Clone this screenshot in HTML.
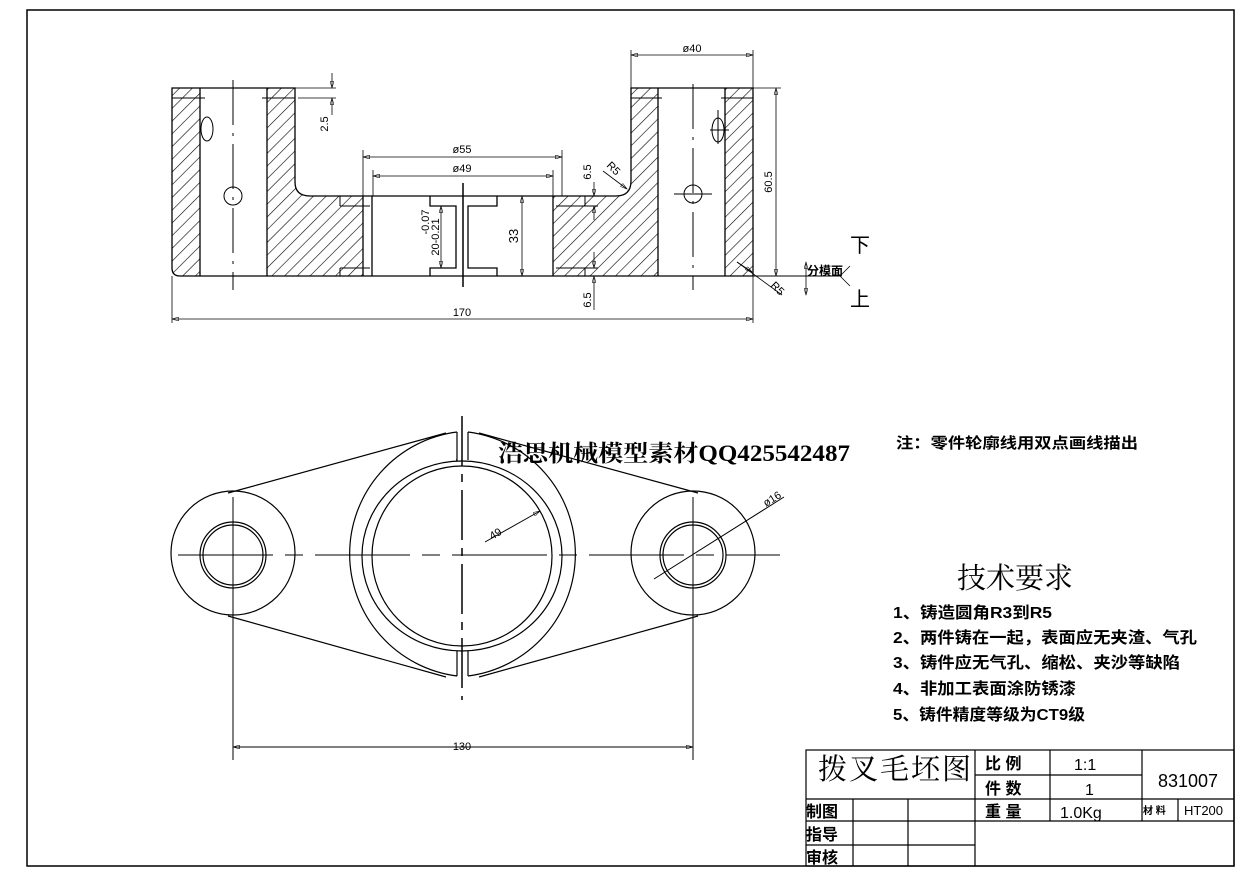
<!DOCTYPE html>
<html><head><meta charset="utf-8"><style>
html,body{margin:0;padding:0;background:#fff;}
svg{display:block;}
text{font-family:"Liberation Sans","Noto Sans CJK SC",sans-serif;fill:#000;}
.cjk{font-family:"Liberation Sans","Noto Sans CJK SC",sans-serif;font-weight:bold;}
</style></head><body>
<svg width="1244" height="876" viewBox="0 0 1244 876" xmlns="http://www.w3.org/2000/svg">
<defs>
<pattern id="h" patternUnits="userSpaceOnUse" width="9" height="9" patternTransform="rotate(45)">
<line x1="0" y1="0" x2="0" y2="9" stroke="#000" stroke-width="1.2"/>
</pattern>
<marker id="a" viewBox="0 0 10 6" refX="10" refY="3" markerWidth="8" markerHeight="4" orient="auto-start-reverse" markerUnits="userSpaceOnUse"><path d="M0,0 L10,3 L0,6 z" fill="none" stroke="#000" stroke-width="0.8"/></marker>
</defs>
<rect width="1244" height="876" fill="#fff"/>
<rect x="27" y="10" width="1207" height="856" fill="none" stroke="#000" stroke-width="1.5"/>

<!-- SECTION VIEW hatches -->
<g fill="url(#h)" stroke="none">
<path d="M172,88 H200 V276 H180 Q172,276 172,268 Z"/>
<path d="M267,88 H295 V182 Q295,196 310,196 H363 V276 H267 Z"/>
<path d="M553,196 H616 Q631,196 631,181 V88 H658 V276 H553 Z"/>
<path d="M725,88 H753 V276 H725 Z"/>
</g>
<g fill="none" stroke="#000" stroke-width="1.3">
<path d="M172,88 H295 V182 Q295,196 310,196 H616 Q631,196 631,181 V88 H753 V276 H180 Q172,276 172,268 Z"/>
<line x1="200" y1="88" x2="200" y2="276"/><line x1="267" y1="88" x2="267" y2="276"/>
<line x1="658" y1="88" x2="658" y2="276"/><line x1="725" y1="88" x2="725" y2="276"/>
<line x1="363" y1="196" x2="363" y2="276"/><line x1="372" y1="196" x2="372" y2="276"/>
<line x1="553" y1="196" x2="553" y2="276"/>
<line x1="753" y1="276" x2="840" y2="276" stroke-width="1"/>
<path d="M430,196 V206 H456 V268 H430 V276"/>
<path d="M497,196 V206 H468 V268 H497 V276"/>
</g>
<g stroke="#000" stroke-width="1" fill="none">
<line x1="172" y1="98" x2="205" y2="98"/><line x1="262" y1="98" x2="295" y2="98"/>
<line x1="631" y1="98" x2="662" y2="98"/><line x1="721" y1="98" x2="753" y2="98"/>
<line x1="340" y1="206" x2="370" y2="206"/><line x1="340" y1="196" x2="340" y2="206"/>
<line x1="340" y1="268" x2="370" y2="268"/><line x1="340" y1="268" x2="340" y2="276"/>
<line x1="556" y1="206" x2="598" y2="206"/><line x1="585" y1="196" x2="585" y2="206"/>
<line x1="556" y1="268" x2="598" y2="268"/><line x1="585" y1="268" x2="585" y2="276"/>
<line x1="233" y1="80" x2="233" y2="290" stroke-dasharray="45,8,3,8"/>
<line x1="693" y1="84" x2="693" y2="290" stroke-dasharray="45,8,3,8"/>
<line x1="463" y1="183" x2="463" y2="287" stroke-width="1.5"/>
<circle cx="233" cy="196" r="9"/><ellipse cx="207" cy="129" rx="6" ry="12"/>
<circle cx="693" cy="194" r="9"/><line x1="674" y1="194" x2="712" y2="194"/>
<ellipse cx="718" cy="130" rx="6" ry="12"/><line x1="710" y1="130" x2="729" y2="130"/><line x1="718" y1="110" x2="718" y2="144"/>
</g>
<!-- dimensions section -->
<g stroke="#000" stroke-width="0.8" fill="none">
<line x1="295" y1="88" x2="336" y2="88"/><line x1="298" y1="98" x2="336" y2="98"/>
<line x1="332" y1="73" x2="332" y2="88" marker-end="url(#a)"/><line x1="332" y1="115" x2="332" y2="98" marker-end="url(#a)"/>
<line x1="363" y1="150" x2="363" y2="196"/><line x1="562" y1="150" x2="562" y2="196"/>
<line x1="363" y1="157" x2="562" y2="157" marker-start="url(#a)" marker-end="url(#a)"/>
<line x1="373" y1="170" x2="373" y2="196"/><line x1="553" y1="170" x2="553" y2="196"/>
<line x1="373" y1="176" x2="553" y2="176" marker-start="url(#a)" marker-end="url(#a)"/>
<line x1="441" y1="206" x2="441" y2="268" marker-start="url(#a)" marker-end="url(#a)"/>
<line x1="522" y1="196" x2="522" y2="276" marker-start="url(#a)" marker-end="url(#a)"/>
<line x1="594" y1="182" x2="594" y2="196" marker-end="url(#a)"/><line x1="594" y1="220" x2="594" y2="206" marker-end="url(#a)"/>
<line x1="594" y1="252" x2="594" y2="268" marker-end="url(#a)"/><line x1="594" y1="310" x2="594" y2="276" marker-end="url(#a)"/>
<line x1="603" y1="171" x2="627" y2="189" marker-end="url(#a)"/>
<line x1="737" y1="262" x2="782" y2="295" /><line x1="737" y1="262" x2="752" y2="272" marker-end="url(#a)"/>
<line x1="631" y1="50" x2="631" y2="88"/><line x1="753" y1="50" x2="753" y2="88"/>
<line x1="631" y1="55" x2="753" y2="55" marker-start="url(#a)" marker-end="url(#a)"/>
<line x1="753" y1="88" x2="781" y2="88"/>
<line x1="776" y1="88" x2="776" y2="276" marker-start="url(#a)" marker-end="url(#a)"/>
<line x1="172" y1="276" x2="172" y2="323"/><line x1="753" y1="276" x2="753" y2="323"/>
<line x1="172" y1="319" x2="753" y2="319" marker-start="url(#a)" marker-end="url(#a)"/>
<line x1="806" y1="262" x2="806" y2="295" marker-start="url(#a)" marker-end="url(#a)"/>
<line x1="840" y1="276" x2="850" y2="266"/><line x1="840" y1="276" x2="850" y2="286"/>
</g>
<g font-size="11">
<text x="462" y="153" text-anchor="middle">ø55</text>
<text x="462" y="172" text-anchor="middle">ø49</text>
<text x="692" y="52" text-anchor="middle">ø40</text>
<text x="462" y="316" text-anchor="middle">170</text>
<text transform="translate(328,124) rotate(-90)" text-anchor="middle">2.5</text>
<text transform="translate(591,172) rotate(-90)" text-anchor="middle">6.5</text>
<text transform="translate(591,300) rotate(-90)" text-anchor="middle">6.5</text>
<text transform="translate(772,182) rotate(-90)" text-anchor="middle">60.5</text>
<text transform="translate(518,236) rotate(-90)" text-anchor="middle" font-size="13">33</text>
<text transform="translate(429,222) rotate(-90)" text-anchor="middle">-0.07</text>
<text transform="translate(439,237) rotate(-90)" text-anchor="middle">20-0.21</text>
<text transform="translate(606,166) rotate(45)">R5</text>
<text transform="translate(770,286) rotate(45)">R5</text>
</g>
<text x="807" y="275" font-size="12" class="cjk">分模面</text>
<text x="850" y="252" font-size="20" class="cjk" style="font-weight:normal">下</text>
<text x="850" y="306" font-size="20" class="cjk" style="font-weight:normal">上</text>

<!-- PLAN VIEW -->
<g fill="none" stroke="#000" stroke-width="1.2">
<circle cx="233" cy="553" r="62"/><circle cx="233" cy="555" r="33"/><circle cx="233" cy="555" r="30"/>
<circle cx="693" cy="553" r="62"/><circle cx="693" cy="555" r="33"/><circle cx="693" cy="555" r="30"/>
<path d="M457,432 A123,123 0 0 0 457,676"/><path d="M468,432 A123,123 0 0 1 468,676"/>
<path d="M457,432 V460 H456"/><path d="M468,432 V460"/>
<path d="M457,676 V651"/><path d="M468,676 V651"/>
<ellipse cx="462" cy="556" rx="100" ry="95"/>
<ellipse cx="462" cy="556" rx="90" ry="90"/>
<line x1="228" y1="493" x2="446" y2="433"/><line x1="479" y1="433" x2="698" y2="493"/>
<line x1="228" y1="616" x2="446" y2="677"/><line x1="479" y1="677" x2="698" y2="616"/>
</g>
<g stroke="#000" stroke-width="1" fill="none">
<line x1="178" y1="555" x2="780" y2="555" stroke-dasharray="95,12,18,12"/>
<line x1="462" y1="416" x2="462" y2="700" stroke-width="1.5" stroke-dasharray="50,8,8,8"/>
<line x1="233" y1="497" x2="233" y2="760"/>
<line x1="693" y1="497" x2="693" y2="760"/>
<line x1="233" y1="747" x2="693" y2="747" marker-start="url(#a)" marker-end="url(#a)"/>
<line x1="485" y1="542" x2="540" y2="511" marker-end="url(#a)"/>
<line x1="654" y1="579" x2="784" y2="497"/>
</g>
<text x="462" y="750" text-anchor="middle" font-size="11">130</text>
<text transform="translate(492,540) rotate(-30)" font-size="11">49</text>
<text transform="translate(766,507) rotate(-32)" font-size="11">ø16</text>
<text x="498" y="461" font-size="23" textLength="352" lengthAdjust="spacingAndGlyphs" style="font-family:'Liberation Serif','Noto Serif CJK SC',serif;font-weight:bold">浩思机械模型素材QQ425542487</text>

<!-- notes -->
<text x="896" y="448" font-size="15" class="cjk" textLength="242" lengthAdjust="spacingAndGlyphs">注：零件轮廓线用双点画线描出</text>
<text x="957" y="588" font-size="29" style="font-family:'Noto Serif CJK SC',serif">技术要求</text>
<g font-size="16" class="cjk">
<text x="893" y="618" textLength="159" lengthAdjust="spacingAndGlyphs">1、铸造圆角R3到R5</text>
<text x="893" y="643" textLength="304" lengthAdjust="spacingAndGlyphs">2、两件铸在一起，表面应无夹渣、气孔</text>
<text x="893" y="668" textLength="287" lengthAdjust="spacingAndGlyphs">3、铸件应无气孔、缩松、夹沙等缺陷</text>
<text x="893" y="694" textLength="183" lengthAdjust="spacingAndGlyphs">4、非加工表面涂防锈漆</text>
<text x="893" y="720" textLength="192" lengthAdjust="spacingAndGlyphs">5、铸件精度等级为CT9级</text>
</g>

<!-- TITLE BLOCK -->
<g stroke="#000" stroke-width="1.2" fill="none">
<rect x="806" y="750" width="428" height="116"/>
<line x1="975" y1="775" x2="1142" y2="775"/>
<line x1="806" y1="799" x2="1234" y2="799"/>
<line x1="806" y1="821" x2="1234" y2="821"/>
<line x1="806" y1="845" x2="975" y2="845"/>
<line x1="853" y1="799" x2="853" y2="866"/>
<line x1="908" y1="799" x2="908" y2="866"/>
<line x1="975" y1="750" x2="975" y2="866"/>
<line x1="1050" y1="750" x2="1050" y2="821"/>
<line x1="1142" y1="750" x2="1142" y2="821"/>
<line x1="1178" y1="799" x2="1178" y2="821"/>
</g>
<text x="818" y="779" font-size="29" style="font-family:'Noto Serif CJK SC',serif" letter-spacing="2">拨叉毛坯图</text>
<g font-size="16" class="cjk">
<text x="985" y="769">比 例</text>
<text x="985" y="794">件 数</text>
<text x="985" y="817">重 量</text>
<text x="806" y="817">制图</text>
<text x="806" y="840">指导</text>
<text x="806" y="863">审核</text>
</g>
<text x="1074" y="770" font-size="16">1:1</text>
<text x="1085" y="795" font-size="16">1</text>
<text x="1060" y="818" font-size="16">1.0Kg</text>
<text x="1158" y="787" font-size="18">831007</text>
<text x="1143" y="814" font-size="10" class="cjk">材 料</text>
<text x="1184" y="815" font-size="13">HT200</text>
</svg>
</body></html>
